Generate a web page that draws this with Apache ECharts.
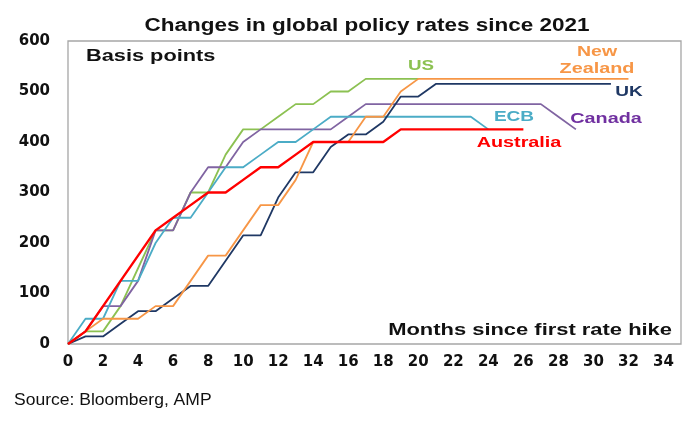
<!DOCTYPE html>
<html><head><meta charset="utf-8">
<script src="https://cdn.jsdelivr.net/npm/echarts@6/dist/echarts.min.js"></script>
<style>html,body{margin:0;padding:0;background:#fff}#c{width:700px;height:428px}</style>
</head><body><div id="c"></div>
<script>
// Cumulative change in policy rate (bp), by month since first hike (index = month)
const us        = [0,25,25,75,150,225,225,300,300,375,425,425,450,475,475,500,500,525,525,525,525];
const canada    = [0,25,75,75,125,225,225,300,350,350,400,425,425,425,425,425,450,475,475,475,475,475,475,475,475,475,475,475,450,425];
const ecb       = [0,50,50,125,125,200,250,250,300,350,350,375,400,400,425,450,450,450,450,450,450,450,450,450,425];
const uk        = [0,15,15,40,65,65,90,115,115,165,215,215,290,340,340,390,415,415,440,490,490,515,515,515,515,515,515,515,515,515,515,515];
const newZealand= [0,25,50,50,50,75,75,125,175,175,225,275,275,325,400,400,400,450,450,500,525,525,525,525,525,525,525,525,525,525,525,525,525];
const australia = [0,25,75,125,175,225,250,275,300,300,325,350,350,375,400,400,400,400,400,425,425,425,425,425,425,425,425];
const xTicks = {min:0, max:35, interval:2};
const yTicks = {min:0, max:600, interval:100};

const toXY = arr => arr.map((v,i)=>[i,v]);
const FONT = '"Liberation Sans", Arial, sans-serif';
const TICKFONT = '"DejaVu Sans", "Liberation Sans", sans-serif';
const chart = echarts.init(document.getElementById('c'), null, {renderer:'canvas'});
function line(name, arr, color, width){
  return {name, type:'line', data:toXY(arr), symbol:'none', smooth:false,
    lineStyle:{color, width}, itemStyle:{color}, emphasis:{disabled:true}, animation:false};
}
function txt(x,y,text,color,size,align,weight,sx){
  return {type:'text', x, y, scaleX:sx||1, style:{text, fill:color, font:(weight||'bold')+' '+size+'px '+FONT, textAlign:align||'left', textVerticalAlign:'middle'}};
}
chart.setOption({
  backgroundColor:'#fff',
  animation:false,
  grid:{left:68, right:19, top:41, bottom:84, show:true, borderColor:'#a6a6a6', borderWidth:1.3, containLabel:false},
  xAxis:{type:'value', min:xTicks.min, max:xTicks.max, interval:xTicks.interval,
    axisLine:{show:false}, axisTick:{show:false}, splitLine:{show:false},
    axisLabel:{color:'#111', fontFamily:TICKFONT, fontWeight:'bold', fontSize:15, margin:11, showMaxLabel:false}},
  yAxis:{type:'value', min:yTicks.min, max:yTicks.max, interval:yTicks.interval,
    axisLine:{show:false}, axisTick:{show:false}, splitLine:{show:false},
    axisLabel:{color:'#111', fontFamily:TICKFONT, fontWeight:'bold', fontSize:15, margin:18}},
  series:[
    line('US', us, '#8cc152', 1.8),
    line('Canada', canada, '#8064a2', 1.8),
    line('ECB', ecb, '#4bacc6', 1.8),
    line('UK', uk, '#1f3864', 1.8),
    line('New Zealand', newZealand, '#f79646', 1.8),
    line('Australia', australia, '#ff0000', 2.4)
  ],
  graphic:[
    txt(367,26,'Changes in global policy rates since 2021','#111',18,'center','bold',1.25),
    txt(86,57,'Basis points','#111',16,'left','bold',1.36),
    txt(672,331,'Months since first rate hike','#111',16,'right','bold',1.37),
    txt(421,66,'US','#8cc152',15,'center','bold',1.25),
    txt(597,52,'New','#f79646',15,'center','bold',1.3),
    txt(597,69,'Zealand','#f79646',15,'center','bold',1.32),
    txt(629,92,'UK','#1f3864',15,'center','bold',1.27),
    txt(514,117,'ECB','#4bacc6',15,'center','bold',1.27),
    txt(606,119,'Canada','#7030a0',15,'center','bold',1.32),
    txt(519,143,'Australia','#ff0000',15,'center','bold',1.32),
    txt(14,400,'Source: Bloomberg, AMP','#111',17,'left','normal',1.03)
  ]
});
</script></body></html>
